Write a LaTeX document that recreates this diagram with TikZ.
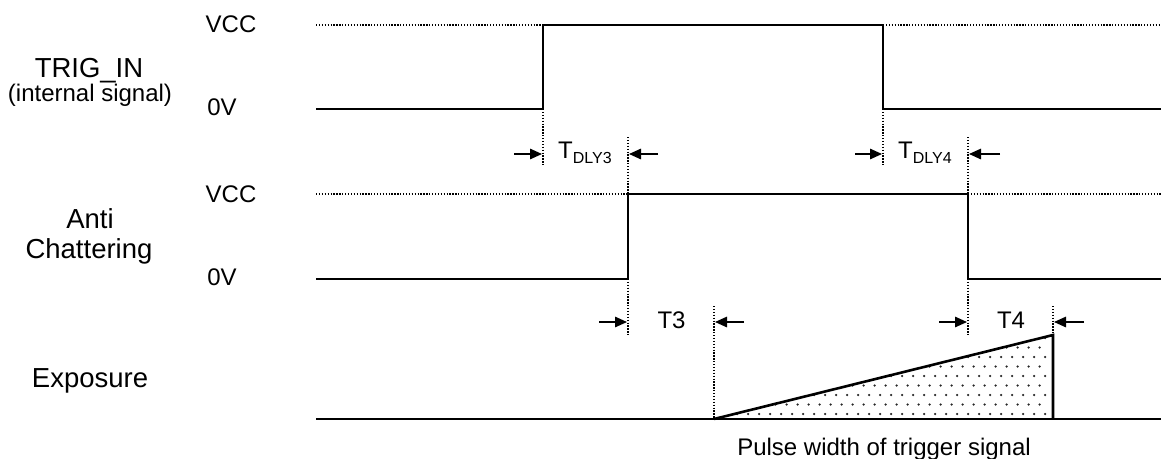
\documentclass[tikz,border=0pt]{standalone}
\usepackage{fontspec}
\setmainfont{Liberation Sans}
\usetikzlibrary{arrows.meta}
\tikzset{
  sig/.style={line width=2.6pt, line cap=butt, line join=miter},
  guide/.style={line width=1.1pt, dash pattern=on 1.3pt off 1.6pt},
  dimarrow/.style={line width=1.4pt, -{Triangle[length=12pt,width=10.5pt]}},
  big/.style={font=\fontsize{27.5}{30}\selectfont, inner sep=0pt},
  mid/.style={font=\fontsize{24}{26}\selectfont, inner sep=0pt},
}
\newcommand{\dly}[1]{T\raisebox{-5pt}{\fontsize{16}{16}\selectfont DLY#1}}
\begin{document}
\begin{tikzpicture}[x=1pt,y=-1pt]
\useasboundingbox (0,0) rectangle (1161,458);
% ---------- left labels
\node[big, anchor=base] (trig) at (89,77) {TRIG\_IN};
\node[mid, anchor=base] (intsig) at (90,101) {(internal signal)};
\node[big, anchor=base] (anti) at (90,228) {Anti};
\node[big, anchor=base] (chat) at (89,258) {Chattering};
\node[big, anchor=base] (expo) at (90,387) {Exposure};
\node[mid, anchor=base] (vcc1) at (231,32) {VCC};
\node[mid, anchor=base] (zv1) at (222,115) {0V};
\node[mid, anchor=base] (vcc2) at (231,202) {VCC};
\node[mid, anchor=base] (zv2) at (222,285) {0V};
% ---------- TRIG_IN
\coordinate (a0) at (316,109);
\coordinate (ar) at (543,109);
\coordinate (af) at (883,109);
\coordinate (aend) at (1161,109);
\draw[guide] (316,25) -- (543,25);
\draw[guide] (883,25) -- (1161,25);
\draw[sig] (a0) -- (ar) -- (543,25) -- (883,25) -- (af) -- (aend);
% ---------- Anti chattering
\coordinate (b0) at (316,279);
\coordinate (br) at (628,279);
\coordinate (bf) at (968,279);
\coordinate (bend) at (1161,279);
\draw[guide] (316,194) -- (628,194);
\draw[guide] (968,194) -- (1161,194);
\draw[sig] (b0) -- (br) -- (628,194) -- (968,194) -- (bf) -- (bend);
% ---------- guides between TRIG and Anti
\draw[guide] (ar) -- (543,166);
\draw[guide] (628,137) -- (628,194);
\draw[guide] (af) -- (883,166);
\draw[guide] (968,137) -- (968,194);
% ---------- Exposure
\coordinate (c0) at (316,419);
\coordinate (cend) at (1161,419);
\coordinate (tA) at (714,419);
\coordinate (tB) at (1053,335);
\coordinate (tC) at (1053,419);
\begin{scope}
  \clip (tA) -- (tB) -- (tC) -- cycle;
  \foreach \k in {0,...,9} {
    \foreach \j in {0,...,32} {
      \fill[black!85] ({1045-11*\j-5.5*mod(\k,2)},{414-9.5*\k}) circle (1.25pt);
    }
  }
\end{scope}
\draw[sig] (c0) -- (cend);
\draw[sig] (tA) -- (tB) -- (tC);
\draw[guide] (br) -- (628,335);
\draw[guide] (714,306) -- (tA);
\draw[guide] (bf) -- (968,335);
\draw[guide] (1053,306) -- (tB);
% ---------- dimension arrows
\draw[dimarrow] (514,154) -- (542,154);
\draw[dimarrow] (658,154) -- (629,154);
\node[mid, anchor=base west] (d3) at (558,158) {\dly{3}};
\draw[dimarrow] (855,154) -- (882,154);
\draw[dimarrow] (1000,154) -- (969,154);
\node[mid, anchor=base west] (d4) at (898,158) {\dly{4}};
\draw[dimarrow] (599,322) -- (627,322);
\draw[dimarrow] (744,322) -- (715,322);
\node[mid, anchor=base] (t3) at (671.5,328) {T3};
\draw[dimarrow] (939,322) -- (967,322);
\draw[dimarrow] (1084,322) -- (1054,322);
\node[mid, anchor=base] (t4) at (1011,328) {T4};
\node[mid, anchor=base] (pw) at (884,455) {Pulse width of trigger signal};
\end{tikzpicture}
\end{document}
